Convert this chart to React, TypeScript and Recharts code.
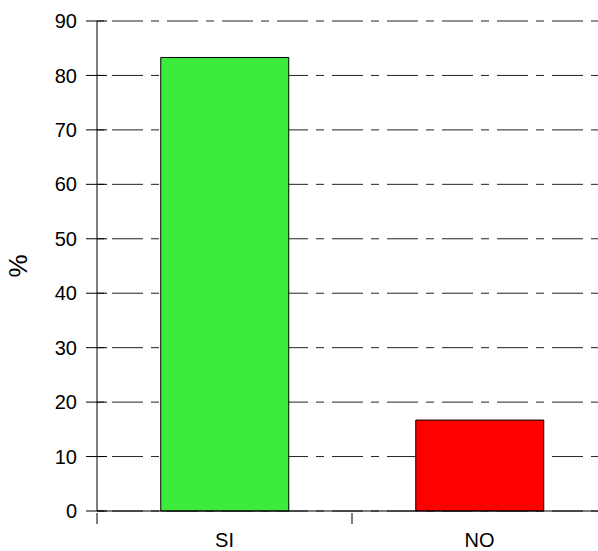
import { BarChart, Bar, XAxis, YAxis, CartesianGrid, Cell } from "recharts";

const categories = ["SI", "NO"];
const percentValues = [83.3, 16.7];
const barColors = ["#3CEB3C", "#FF0000"];
const yTicks = [0, 10, 20, 30, 40, 50, 60, 70, 80, 90];

const data = categories.map((name, i) => ({ name, value: percentValues[i] }));

const FONT = "Liberation Sans, Arial, sans-serif";

// category label at band centre, tick mark at the left edge of the band
function CategoryTick(props: any) {
  const { x, y, payload } = props;
  const half = payload && payload.offset ? payload.offset : 0;
  return (
    <g>
      <line x1={x - half} y1={y} x2={x - half} y2={y + 11} stroke="#000" strokeWidth={1} />
      <text
        x={x}
        y={y + 20}
        dy="0.71em"
        textAnchor="middle"
        fontSize={20}
        fontFamily={FONT}
        fill="#000"
      >
        {payload.value}
      </text>
    </g>
  );
}

// value tick crossing the axis, label to the left
function ValueTick(props: any) {
  const { x, y, payload } = props;
  return (
    <g>
      <line x1={x - 11} y1={y} x2={x + 10} y2={y} stroke="#000" strokeWidth={1} />
      <text
        x={x - 20}
        y={y}
        dy="0.355em"
        textAnchor="end"
        fontSize={20}
        fontFamily={FONT}
        fill="#000"
      >
        {payload.value}
      </text>
    </g>
  );
}

export default function App() {
  return (
    <div
      style={{
        position: "absolute",
        left: 0,
        top: 0,
        width: 598,
        height: 551,
        overflow: "hidden",
        background: "#fff",
      }}
    >
      <BarChart
        width={607}
        height={551}
        data={data}
        margin={{ top: 21, right: 0, bottom: 0, left: 0 }}
        barCategoryGap="25%"
      >
        <CartesianGrid
          vertical={false}
          stroke="#222"
          strokeDasharray="31 8 8 8"
          strokeDashoffset={40}
        />
        <XAxis
          dataKey="name"
          height={40}
          tickLine={false}
          tickSize={0}
          axisLine={{ stroke: "#000" }}
          tick={<CategoryTick />}
          interval={0}
        />
        <YAxis
          width={97}
          domain={[0, 90]}
          ticks={yTicks}
          interval={0}
          tickSize={0}
          tickMargin={0}
          tickLine={false}
          axisLine={{ stroke: "#000" }}
          tick={<ValueTick />}
          label={{
            value: "%",
            angle: -90,
            position: "insideLeft",
            offset: 18,
            style: { fontSize: 26, fontFamily: FONT, fill: "#000", textAnchor: "middle" },
          }}
        />
        <Bar dataKey="value" stroke="#000" strokeWidth={1} isAnimationActive={false}>
          {data.map((d, i) => (
            <Cell key={d.name} fill={barColors[i]} />
          ))}
        </Bar>
      </BarChart>
    </div>
  );
}
